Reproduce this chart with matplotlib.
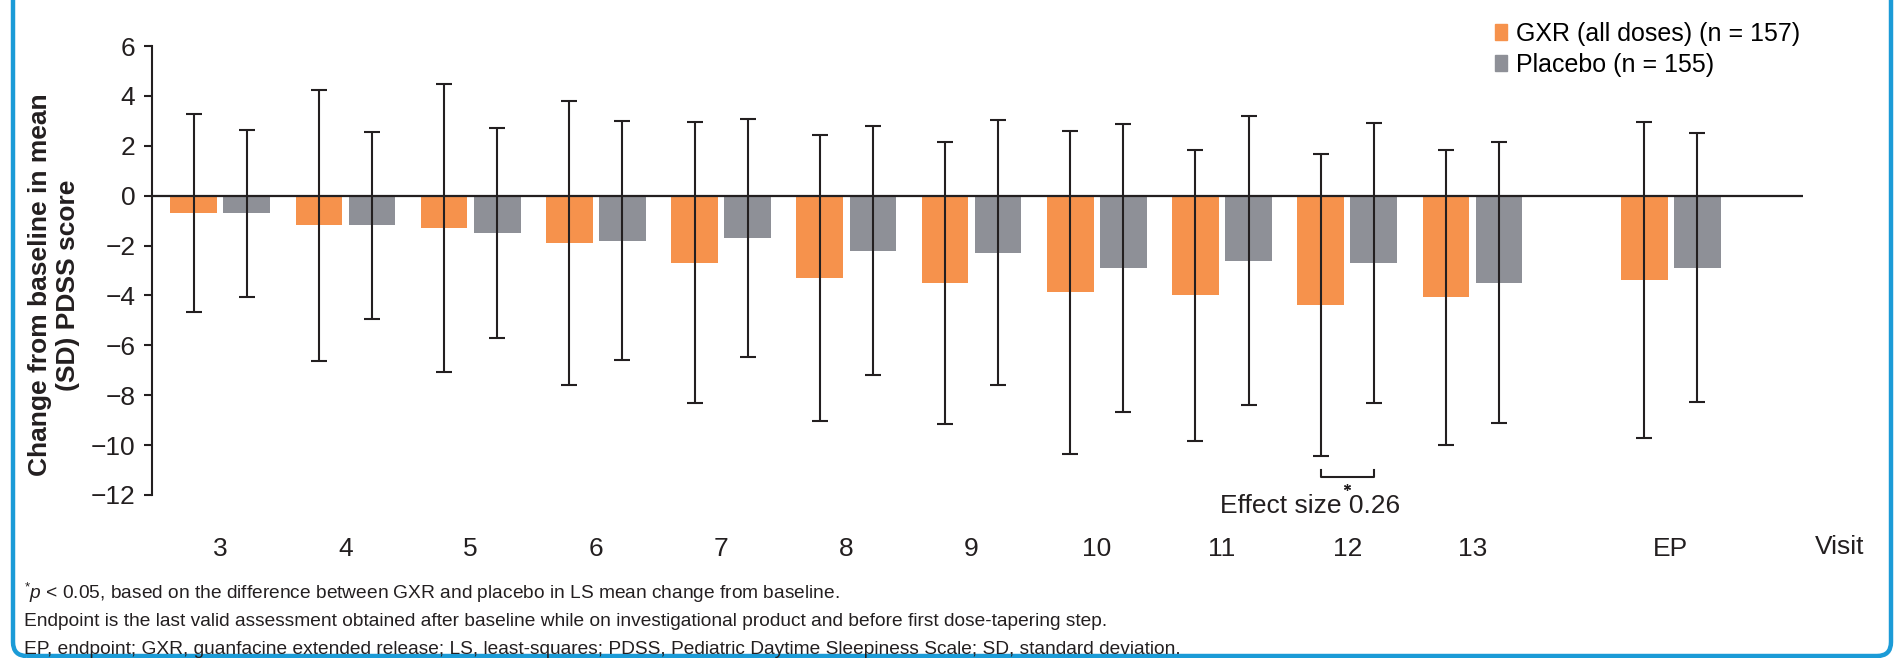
import numpy as np
import matplotlib
matplotlib.use('Agg')
import matplotlib.pyplot as plt
from matplotlib.patches import FancyBboxPatch, Patch
from matplotlib.transforms import blended_transform_factory

plt.rcParams['font.family'] = ['Liberation Sans', 'DejaVu Sans']
plt.rcParams['mathtext.fontset'] = 'custom'
plt.rcParams['mathtext.rm'] = 'Liberation Sans'
plt.rcParams['mathtext.it'] = 'Liberation Sans:italic'

# data (mean change and SD)
visits = ['3', '4', '5', '6', '7', '8', '9', '10', '11', '12', '13', 'EP']
gxr_mean = [-0.69, -1.19, -1.29, -1.89, -2.69, -3.29, -3.49, -3.88, -3.99, -4.38, -4.07, -3.38]
gxr_sd = [3.96, 5.42, 5.76, 5.70, 5.63, 5.73, 5.66, 6.47, 5.84, 6.06, 5.91, 6.34]
pbo_mean = [-0.70, -1.19, -1.49, -1.80, -1.69, -2.20, -2.29, -2.89, -2.60, -2.69, -3.49, -2.89]
pbo_sd = [3.35, 3.76, 4.22, 4.79, 4.76, 5.00, 5.32, 5.77, 5.81, 5.62, 5.63, 5.39]
gxr_label = 'GXR (all doses) (n = 157)'
pbo_label = 'Placebo (n = 155)'
effect_text = 'Effect size 0.26'
sig_visit = '12'

footnotes = [
    r'$^{*}\mathit{p}$ < 0.05, based on the difference between GXR and placebo in LS mean change from baseline.',
    'Endpoint is the last valid assessment obtained after baseline while on investigational product and before first dose-tapering step.',
    'EP, endpoint; GXR, guanfacine extended release; LS, least-squares; PDSS, Pediatric Daytime Sleepiness Scale; SD, standard deviation.',
]

ORANGE = '#F6924C'
GREY = '#8E9097'
DARK = '#231F20'
BLUE = '#1B9BD7'

x = np.array(list(range(len(visits) - 1)) + [len(visits) - 1 + 0.585])
w = 0.373
off = 0.212

fig = plt.figure(figsize=(18.94, 6.58), dpi=100)
ax = fig.add_axes([152 / 1894, 163 / 658, 1651 / 1894, 449 / 658])

ax.bar(x - off, gxr_mean, width=w, color=ORANGE, zorder=2, label=gxr_label)
ax.bar(x + off, pbo_mean, width=w, color=GREY, zorder=2, label=pbo_label)
ax.axhline(0, color=DARK, lw=1.6, zorder=3)
ekw = dict(fmt='none', ecolor=DARK, elinewidth=1.5, capsize=5.5, capthick=1.5, zorder=4)
ax.errorbar(x - off, gxr_mean, yerr=gxr_sd, **ekw)
ax.errorbar(x + off, pbo_mean, yerr=pbo_sd, **ekw)

ax.set_xlim(-0.545, 12.64)
ax.set_ylim(-12, 6)
ax.set_yticks(np.arange(-12, 7, 2))
ax.set_yticklabels([str(v).replace('-', '\u2212') for v in range(-12, 7, 2)])
ax.set_xticks(x)
ax.set_xticklabels(visits)
ax.tick_params(axis='x', length=0, pad=30, labelsize=19, colors=DARK)
ax.tick_params(axis='y', length=6, width=1.5, pad=6, labelsize=19, colors=DARK)
for s in ['top', 'right', 'bottom']:
    ax.spines[s].set_visible(False)
ax.spines['left'].set_linewidth(1.5)
ax.spines['left'].set_color(DARK)
ax.spines['left'].set_bounds(-12, 6)

trans = blended_transform_factory(ax.transData, ax.transAxes)
ax.text(12.93, -0.116, 'Visit', transform=trans, ha='center', va='center',
        fontsize=19, color=DARK, clip_on=False)

# significance bracket under visit 12
i = visits.index(sig_visit)
x1, x2 = x[i] - off, x[i] + off
ax.plot([x1, x1, x2, x2], [-11.0, -11.28, -11.28, -11.0], color=DARK, lw=1.5,
        clip_on=False)
ax.plot([x[i]], [-11.66], marker=(6, 2, 0), ms=5, mew=0.9, color=DARK,
        clip_on=False, linestyle='none')
ax.text(x[i] - 0.3, -12.45, effect_text, ha='center', va='center', fontsize=19,
        color=DARK, clip_on=False)

fig.text(54 / 1894, 1 - 285 / 658, 'Change from baseline in mean\n(SD) PDSS score',
         rotation=90, ha='center', va='center', fontsize=19, fontweight='bold',
         color=DARK, multialignment='center')

handles = [Patch(color=ORANGE, label=gxr_label), Patch(color=GREY, label=pbo_label)]
fig.legend(handles=handles, loc='upper right', bbox_to_anchor=(1810 / 1894, 1 - 12 / 658),
           frameon=False, fontsize=18, handlelength=0.5, handleheight=0.6,
           handletextpad=0.35, labelspacing=0.28, borderaxespad=0)

for k, line in enumerate(footnotes):
    fig.text(24 / 1894, 1 - (593 + 28 * k) / 658, line, ha='left', va='center',
             fontsize=13.8, color=DARK)

frame = FancyBboxPatch((0.13, 0.02), 18.78, 7.0, boxstyle='round,pad=0,rounding_size=0.14',
                       transform=fig.dpi_scale_trans, fill=False, ec=BLUE, lw=3.2)
fig.add_artist(frame)

fig.savefig('out.png', dpi=100)
